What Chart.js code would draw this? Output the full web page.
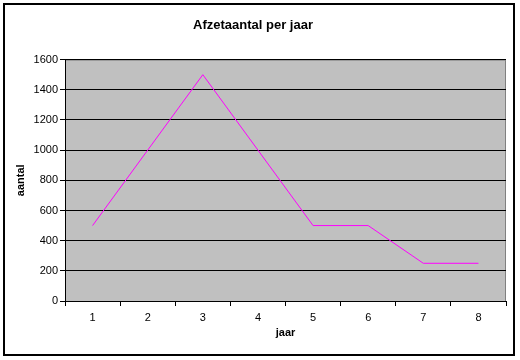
<!DOCTYPE html>
<html>
<head>
<meta charset="utf-8">
<script src="https://cdn.jsdelivr.net/npm/chart.js@4/dist/chart.umd.min.js"></script>
<style>
  html, body { margin: 0; padding: 0; background: #fff; }
  #wrap { width: 520px; height: 360px; }
</style>
</head>
<body>
<div id="wrap"><canvas id="c" width="520" height="360"></canvas></div>
<script>
// === Data ===
const years = ["1", "2", "3", "4", "5", "6", "7", "8"];
const afzet = [500, 1000, 1500, 1000, 500, 500, 250, 250];

const FONT = "Arial, 'Liberation Sans', sans-serif";

// gray plot area + outer frame
const frame = {
  id: "frame",
  beforeDraw(chart) {
    const { ctx, chartArea: a } = chart;
    ctx.save();
    ctx.fillStyle = "#c0c0c0";
    ctx.fillRect(a.left, a.top, a.right - a.left, a.bottom - a.top);
    ctx.strokeStyle = "#808080";
    ctx.lineWidth = 1;
    ctx.beginPath();
    ctx.moveTo(a.left, a.top + 0.5);
    ctx.lineTo(a.right - 0.5, a.top + 0.5);
    ctx.lineTo(a.right - 0.5, a.bottom);
    ctx.stroke();
    ctx.restore();
  },
  afterDraw(chart) {
    const ctx = chart.ctx;
    ctx.save();
    ctx.strokeStyle = "#000";
    ctx.lineWidth = 2;
    ctx.strokeRect(4, 4, 510, 351);
    ctx.restore();
  },
};

new Chart(document.getElementById("c"), {
  type: "line",
  data: {
    labels: years,
    datasets: [
      {
        data: afzet,
        borderColor: "#ff00ff",
        borderWidth: 1,
        pointRadius: 0,
        tension: 0,
        fill: false,
      },
    ],
  },
  options: {
    responsive: false,
    animation: false,
    layout: { padding: { left: 0, right: 14, top: 0, bottom: 0 } },
    plugins: {
      legend: { display: false },
      tooltip: { enabled: false },
      title: {
        display: true,
        text: "Afzetaantal per jaar",
        color: "#000",
        font: { family: FONT, size: 13, weight: "bold" },
        padding: { top: 18, bottom: 26 },
      },
    },
    scales: {
      x: {
        offset: true,
        grid: {
          offset: true,
          drawOnChartArea: false,
          color: "#000",
          tickLength: 5,
        },
        border: { color: "#000", width: 1 },
        ticks: { color: "#000", font: { family: FONT, size: 11 }, padding: 5, maxRotation: 0 },
        title: {
          display: true,
          text: "jaar",
          color: "#000",
          font: { family: FONT, size: 11, weight: "bold" },
          padding: { top: 0, bottom: 20 },
        },
        afterFit(s) { s.height = 59; },
      },
      y: {
        min: 0,
        max: 1600,
        ticks: {
          stepSize: 200,
          color: "#000",
          font: { family: FONT, size: 11 },
          padding: 2,
          callback: (v) => String(v),
        },
        grid: { color: "#000", tickLength: 5 },
        border: { color: "#000", width: 1 },
        title: {
          display: true,
          text: "aantal",
          color: "#000",
          font: { family: FONT, size: 11, weight: "bold" },
          padding: { top: 14, bottom: 0 },
        },
        afterFit(s) { s.width = 65; },
      },
    },
  },
  plugins: [frame],
});
</script>
</body>
</html>
